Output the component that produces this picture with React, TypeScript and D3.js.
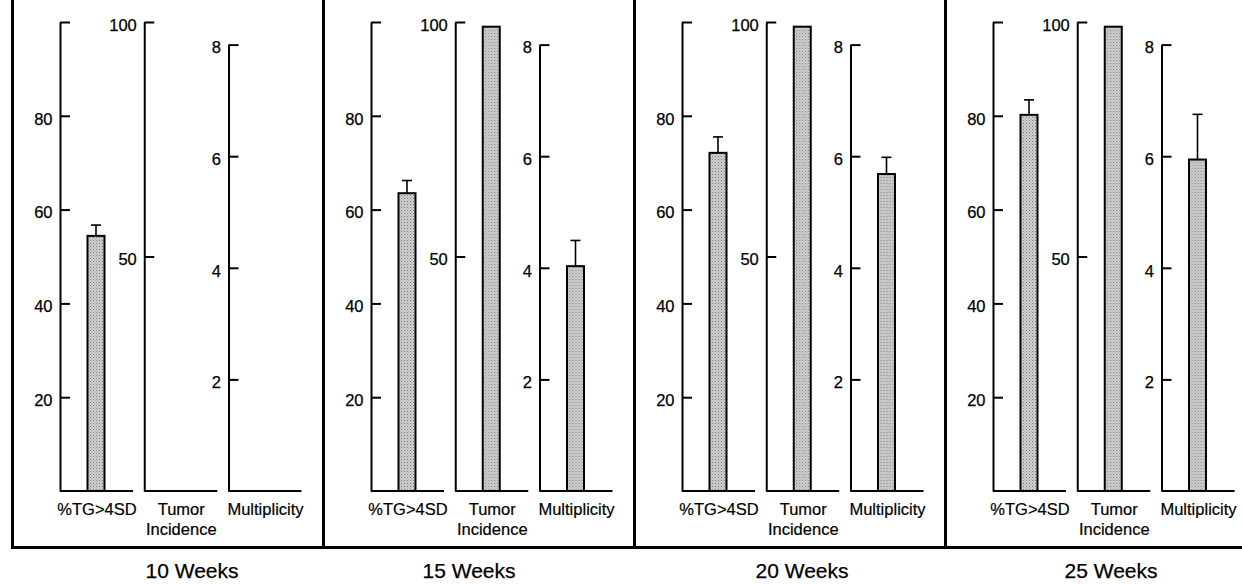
import React, { useEffect, useRef } from 'react';
import * as d3 from 'd3';

// week groups and the three measures in each
const weeks = ['10 Weeks', '15 Weeks', '20 Weeks', '25 Weeks'];
const measures = ['%TG>4SD', 'Tumor Incidence', 'Multiplicity'];

// %TG>4SD (mean, error)
const tgValues = [54.4, 63.5, 72.1, 80.2];
const tgErrors = [2.3, 2.7, 3.4, 3.2];

// tumor incidence (%), no error bars
const incidenceValues = [0, 99, 99, 99];

// multiplicity (mean, error)
const multValues = [0, 4.03, 5.68, 5.94];
const multErrors = [0, 0.46, 0.3, 0.81];

// tick labels per axis
const tgTicks = [20, 40, 60, 80, 100];
const incidenceTicks = [50, 100];
const multTicks = [2, 4, 6, 8];

const App: React.FC = () => {
  const svgRef = useRef<SVGSVGElement>(null);

  useEffect(() => {
    if (!svgRef.current) return;
    const svg = d3.select(svgRef.current);
    svg.selectAll('*').remove();

    const width = 1242;
    const height = 584;
    const font = '"Liberation Sans", Arial, Helvetica, sans-serif';
    const baseY = 491;
    const barW = 17;
    const barShift = 36;
    const baseLen = 73;

    // stippled grey fill for the bars
    const defs = svg.append('defs');
    const pat = defs
      .append('pattern')
      .attr('id', 'stipple')
      .attr('patternUnits', 'userSpaceOnUse')
      .attr('width', 3)
      .attr('height', 3);
    pat.append('rect').attr('width', 3).attr('height', 3).attr('fill', '#d0d0d0');
    pat.append('rect').attr('width', 1).attr('height', 1).attr('fill', '#7a7a7a');
    pat.append('rect').attr('x', 1.5).attr('y', 1.5).attr('width', 1).attr('height', 1).attr('fill', '#9a9a9a');

    const panelX = d3.scaleLinear().domain([0, weeks.length - 1]).range([60, 993]);
    const measureX = d3.scalePoint<string>().domain(measures).range([0, 168.5]);

    const yPct = d3.scaleLinear().domain([0, 100]).range([baseY, 22]);
    const yMult = d3.scaleLinear().domain([0, 8]).range([baseY, 44.6]);

    const frameTop = 0;
    const frameBottom = 547.5;

    // panel frame lines
    weeks.forEach((_, i) => {
      const fx = panelX(i) - 47.5;
      svg
        .append('line')
        .attr('x1', fx)
        .attr('x2', fx)
        .attr('y1', frameTop)
        .attr('y2', frameBottom + 1.5)
        .attr('stroke', '#000')
        .attr('stroke-width', 3);
    });
    svg
      .append('line')
      .attr('x1', panelX(0) - 49)
      .attr('x2', width)
      .attr('y1', frameBottom)
      .attr('y2', frameBottom)
      .attr('stroke', '#000')
      .attr('stroke-width', 3);

    const weekLabelShift = [132, 98, 120, 118];

    const axisDefs = [
      { scale: yPct, ticks: tgTicks, fmt: (d: number) => (d === 100 ? '' : String(d)) },
      { scale: yPct, ticks: incidenceTicks, fmt: (d: number) => String(d) },
      { scale: yMult, ticks: multTicks, fmt: (d: number) => String(d) },
    ];

    weeks.forEach((week, i) => {
      const g = svg.append('g').attr('transform', `translate(${panelX(i)},0)`);

      const series = [
        { value: tgValues[i], err: tgErrors[i] },
        { value: incidenceValues[i], err: 0 },
        { value: multValues[i], err: multErrors[i] },
      ];

      measures.forEach((m, j) => {
        const ax = measureX(m) as number;
        const def = axisDefs[j];
        const sub = g.append('g').attr('transform', `translate(${ax},0)`);

        const axis = d3
          .axisLeft(def.scale)
          .tickValues(def.ticks)
          .tickSizeInner(-10)
          .tickSizeOuter(0)
          .tickPadding(7.5)
          .tickFormat((d) => def.fmt(d as number));

        const axG = sub.append('g').call(axis);
        axG.select('.domain').attr('stroke-width', 2);
        axG.selectAll('.tick line').attr('stroke-width', 2);
        axG
          .selectAll('.tick text')
          .attr('font-family', font)
          .attr('font-size', 16.5)
          .attr('fill', '#000')
          .attr('stroke', '#000')
          .attr('stroke-width', 0.25)
          .attr('dy', '0.5em');

        // baseline
        sub
          .append('line')
          .attr('x1', 0)
          .attr('x2', baseLen)
          .attr('y1', baseY)
          .attr('y2', baseY)
          .attr('stroke', '#000')
          .attr('stroke-width', 2);

        const s = series[j];
        const cx = barShift;
        if (s.value > 0) {
          const top = def.scale(s.value);
          if (s.err > 0) {
            const et = def.scale(s.value + s.err);
            sub
              .append('line')
              .attr('x1', cx)
              .attr('x2', cx)
              .attr('y1', top)
              .attr('y2', et)
              .attr('stroke', '#000')
              .attr('stroke-width', 1.6);
            sub
              .append('line')
              .attr('x1', cx - 5)
              .attr('x2', cx + 5)
              .attr('y1', et)
              .attr('y2', et)
              .attr('stroke', '#000')
              .attr('stroke-width', 1.6);
          }
          sub
            .append('rect')
            .attr('x', cx - barW / 2)
            .attr('y', top)
            .attr('width', barW)
            .attr('height', baseY - top)
            .attr('fill', 'url(#stipple)')
            .attr('stroke', '#000')
            .attr('stroke-width', 2);
        }

        // category label
        const words = m === 'Tumor Incidence' ? ['Tumor', 'Incidence'] : [m];
        words.forEach((w, k) => {
          sub
            .append('text')
            .attr('x', cx + 1)
            .attr('y', 515 + k * 20)
            .attr('text-anchor', 'middle')
            .attr('font-family', font)
            .attr('font-size', 16.5)
            .attr('fill', '#000')
            .attr('stroke', '#000')
            .attr('stroke-width', 0.2)
            .text(w);
        });
      });

      svg
        .append('text')
        .attr('x', panelX(i) + weekLabelShift[i])
        .attr('y', 578)
        .attr('text-anchor', 'middle')
        .attr('font-family', font)
        .attr('font-size', 21)
        .attr('fill', '#000')
        .attr('stroke', '#000')
        .attr('stroke-width', 0.25)
        .text(week);
    });

    svg.attr('width', width).attr('height', height);
  }, []);

  return (
    <svg
      ref={svgRef}
      width={1242}
      height={584}
      style={{ position: 'absolute', left: 0, top: 0, background: '#fff' }}
    />
  );
};

export default App;
